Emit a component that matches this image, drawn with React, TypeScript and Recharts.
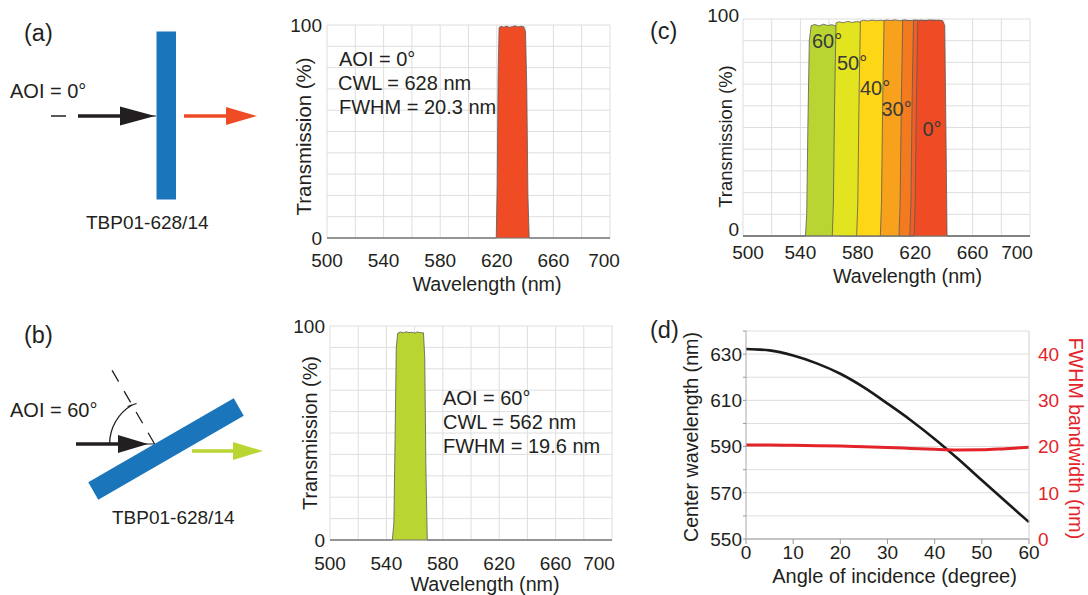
import React from 'react'
import { ComposedChart, Area, Line, XAxis, YAxis, CartesianGrid } from 'recharts'

const FONT = '"Liberation Sans", Arial, Helvetica, sans-serif'
const INK = '#231f20'
const GRID = '#dedede'
const RED = '#e3232a'
const BLUE = '#1a75bb'
const EDGE = '#5a5a5a'

// (a) TBP01-628/14 at AOI = 0 deg
const aWave = [500, 619.6, 620.3, 620.9, 621.6, 623, 625, 627, 629, 631, 633, 635, 637, 639, 640.3, 641.2, 642, 642.9, 700]
const aTrans = [0, 0, 25, 75, 98.8, 99.4, 99.0, 99.5, 98.9, 99.3, 99.6, 99.1, 99.4, 99.2, 97, 70, 20, 0, 0]

// (b) same filter at AOI = 60 deg
const bWave = [500, 544.2, 545.3, 546.1, 547, 548, 550, 552, 554, 556, 558, 560, 562, 564, 566.3, 567.2, 568, 569, 700]
const bTrans = [0, 0, 8, 45, 90, 96.6, 97.2, 96.8, 97.3, 96.9, 97.1, 96.7, 97.2, 96.9, 96.8, 85, 35, 0, 0]

// (c) spectra for several angles
const c60Wave = [500, 543.5, 544.4, 545.2, 546.2, 547.5, 550, 553, 556, 559, 562, 565.5, 566.5, 567.5, 700]
const c60Trans = [0, 0, 10, 50, 90, 96.9, 97.5, 96.8, 97.6, 97.0, 97.4, 96.5, 50, 0, 0]
const c50Wave = [562.2, 563, 563.8, 564.8, 567, 570, 573, 576, 579, 582, 584.5, 585.5, 586.5]
const c50Trans = [0, 15, 60, 98.2, 98.7, 98.3, 98.9, 98.4, 98.8, 98.5, 98.3, 50, 0]
const c40Wave = [579.2, 580, 580.8, 581.8, 584, 587, 590, 593, 596, 599, 601.5, 602.5, 603.5]
const c40Trans = [0, 15, 60, 99.0, 99.4, 99.1, 99.5, 99.2, 99.4, 99.1, 99.0, 50, 0]
const c30Wave = [595.7, 596.5, 597.3, 598.3, 600, 603, 606, 609, 612, 615, 618, 619, 620]
const c30Trans = [0, 15, 60, 99.2, 99.5, 99.3, 99.6, 99.2, 99.5, 99.3, 99.1, 50, 0]
const c20Wave = [608.7, 609.5, 610.3, 611.3, 613, 616, 619, 622, 625, 628, 631, 632, 633]
const c20Trans = [0, 15, 60, 99.3, 99.5, 99.2, 99.5, 99.3, 99.4, 99.2, 99.1, 50, 0]
const c10Wave = [616.2, 617, 617.8, 618.8, 621, 624, 627, 630, 633, 636, 638.5, 639.5, 640.5]
const c10Trans = [0, 15, 60, 99.3, 99.5, 99.2, 99.4, 99.3, 99.5, 99.2, 99.1, 50, 0]
const c0Wave = [500, 619.2, 620, 620.8, 621.8, 624, 627, 630, 633, 636, 639, 640.6, 641.4, 642.2, 700]
const c0Trans = [0, 0, 15, 60, 99.3, 99.5, 99.2, 99.6, 99.3, 99.5, 99.3, 97, 50, 0, 0]
const cAngleLabels = ['60°', '50°', '40°', '30°', '0°']

// (d) centre wavelength and FWHM vs angle
const dAngle = [0, 5, 10, 15, 20, 25, 30, 35, 40, 45, 50, 55, 60]
const dCwl = [632.2, 631.6, 629.4, 626.0, 621.5, 615.6, 608.6, 601.3, 593.3, 584.6, 575.4, 566.3, 557.3]
const dFwhm = [20.35, 20.33, 20.28, 20.2, 20.1, 19.95, 19.8, 19.6, 19.4, 19.28, 19.3, 19.55, 19.85]

// ticks
const waveTicks = [500, 520, 540, 560, 580, 600, 620, 640, 660, 680, 700]
const waveLabels = [500, 540, 580, 620, 660, 700]
const transTicks = [0, 10, 20, 30, 40, 50, 60, 70, 80, 90, 100]
const transLabels = [0, 100]
const angleTicks = [0, 10, 20, 30, 40, 50, 60]
const cwlTicks = [550, 560, 570, 580, 590, 600, 610, 620, 630, 640]
const cwlLabels = [550, 570, 590, 610, 630]
const fwhmTicks = [0, 10, 20, 30, 40]

const cSeries = [
  { key: 't60', wave: c60Wave, trans: c60Trans },
  { key: 't50', wave: c50Wave, trans: c50Trans },
  { key: 't40', wave: c40Wave, trans: c40Trans },
  { key: 't30', wave: c30Wave, trans: c30Trans },
  { key: 't20', wave: c20Wave, trans: c20Trans },
  { key: 't10', wave: c10Wave, trans: c10Trans },
  { key: 't0', wave: c0Wave, trans: c0Trans },
]
const cFills = ['#b9d531', '#e1e41e', '#fdd716', '#f8a11c', '#f47a20', '#f15d22', '#ef4b24']

const aRows = aWave.map((w, i) => ({ w, t: aTrans[i] }))
const bRows = bWave.map((w, i) => ({ w, t: bTrans[i] }))
const cRows = (() => {
  const byWave = new Map<number, any>()
  cSeries.forEach(s =>
    s.wave.forEach((w, i) => {
      const row = byWave.get(w) ?? { w }
      row[s.key] = s.trans[i]
      byWave.set(w, row)
    }),
  )
  return [...byWave.values()].sort((p, q) => p.w - q.w)
})()
const dRows = dAngle.map((a, i) => ({ a, cwl: dCwl[i], fwhm: dFwhm[i] }))

// x tick: only every other grid line gets a label; the end ones are nudged inward as in the original
function WaveTick(props: any) {
  const { x, y, payload, firstDx = 0, lastDx = 0 } = props
  const v = payload.value
  if (!waveLabels.includes(v)) return <g />
  const last = v === waveLabels[waveLabels.length - 1]
  const first = v === waveLabels[0]
  return (
    <text x={x + (last ? lastDx : first ? firstDx : 0)} y={y} dy="0.71em" textAnchor="middle"
      fontSize={19} fill={INK} fontFamily={FONT}>
      {v}
    </text>
  )
}

// y tick: only 0 and 100 are labelled
function TransTick(props: any) {
  const { x, y, payload, lowDy = 0, highDy = 0 } = props
  const v = payload.value
  if (!transLabels.includes(v)) return <g />
  return (
    <text x={x} y={y + (v === 0 ? lowDy : highDy)} dy="0.355em" textAnchor="end"
      fontSize={19} fill={INK} fontFamily={FONT}>
      {v}
    </text>
  )
}

// rotated axis title, centred on the axis box
const vTitle = (text: string, dx: number, dy: number, size: number, angle: number, fill = INK, fromRight = false) =>
  (props: any) => {
    const vb = props.viewBox
    if (!vb) return null
    const cx = fromRight ? vb.x + vb.width - dx : vb.x + dx
    const cy = vb.y + vb.height / 2 + dy
    return (
      <text x={cx} y={cy} transform={`rotate(${angle} ${cx} ${cy})`} textAnchor="middle"
        dominantBaseline="central" fontSize={size} fill={fill} fontFamily={FONT}>
        {text}
      </text>
    )
  }

const hTitle = (text: string, fromBottom: number, dx: number, size: number) => (props: any) => {
  const vb = props.viewBox
  if (!vb) return null
  return (
    <text x={vb.x + vb.width / 2 + dx} y={vb.y + vb.height - fromBottom} textAnchor="middle"
      fontSize={size} fill={INK} fontFamily={FONT}>
      {text}
    </text>
  )
}

function SpectrumChart({ rows, fill, width, height, yWidth, xHeight, xTitleBottom, xTitleDx, yTitleDx, yTitleDy, yTitleSize, yTickMargin, xTickMargin, lastDx }: any) {
  return (
    <ComposedChart width={width} height={height} data={rows} margin={{ top: 15, right: 10, left: 0, bottom: 0 }}>
      <CartesianGrid stroke={GRID} strokeWidth={1} />
      <XAxis
        dataKey="w"
        type="number"
        domain={[500, 700]}
        ticks={waveTicks}
        interval={0}
        height={xHeight}
        tickLine={false}
        tickSize={6}
        tickMargin={xTickMargin}
        axisLine={{ stroke: '#777' }}
        tick={(p: any) => <WaveTick {...p} lastDx={lastDx} />}
        label={{ content: hTitle('Wavelength (nm)', xTitleBottom, xTitleDx, 19.7) }}
      />
      <YAxis
        type="number"
        domain={[0, 100]}
        ticks={transTicks}
        interval={0}
        width={yWidth}
        axisLine={false}
        tickLine={false}
        tickSize={0}
        tickMargin={yTickMargin}
        tick={(p: any) => <TransTick {...p} />}
        label={{ content: vTitle('Transmission (%)', yTitleDx, yTitleDy, yTitleSize, -90) }}
      />
      <Area type="linear" dataKey="t" stroke={EDGE} strokeWidth={0.8} fill={fill} fillOpacity={1}
        dot={false} activeDot={false} isAnimationActive={false} />
    </ComposedChart>
  )
}

function AngleSpectraChart() {
  return (
    <ComposedChart width={347} height={291} data={cRows} margin={{ top: 15, right: 10, left: 0, bottom: 0 }}>
      <CartesianGrid stroke={GRID} strokeWidth={1} />
      <XAxis
        dataKey="w"
        type="number"
        domain={[500, 700]}
        ticks={waveTicks}
        interval={0}
        height={59}
        tickLine={false}
        tickSize={6}
        tickMargin={4}
        axisLine={{ stroke: '#777' }}
        tick={(p: any) => <WaveTick {...p} firstDx={5} lastDx={-13} />}
        label={{ content: hTitle('Wavelength (nm)', 12.5, 21, 19.7) }}
      />
      <YAxis
        type="number"
        domain={[0, 100]}
        ticks={transTicks}
        interval={0}
        width={50}
        axisLine={false}
        tickLine={false}
        tickSize={0}
        tickMargin={4}
        tick={(p: any) => <TransTick {...p} lowDy={-7} highDy={-4} />}
        label={{ content: vTitle('Transmission (%)', 32, 9, 18.4, -90) }}
      />
      {cSeries.map((s, i) => (
        <Area key={s.key} type="linear" dataKey={s.key} stroke={EDGE} strokeWidth={0.8} fill={cFills[i]}
          fillOpacity={1} connectNulls dot={false} activeDot={false} isAnimationActive={false} />
      ))}
    </ComposedChart>
  )
}

function AngleTrendChart() {
  return (
    <ComposedChart width={408} height={279} data={dRows} margin={{ top: 15, right: 0, left: 0, bottom: 0 }}>
      <CartesianGrid yAxisId="left" vertical={false} stroke={GRID} strokeWidth={1} />
      <XAxis
        dataKey="a"
        type="number"
        domain={[0, 60]}
        ticks={angleTicks}
        interval={0}
        height={56}
        tickSize={5}
        tickMargin={2}
        axisLine={{ stroke: '#999' }}
        tickLine={{ stroke: '#999' }}
        tick={{ fontSize: 19, fill: INK, fontFamily: FONT }}
        label={{ content: hTitle('Angle of incidence (degree)', 12, 7, 20) }}
      />
      <YAxis
        yAxisId="left"
        type="number"
        domain={[550, 640]}
        ticks={cwlTicks}
        interval={0}
        width={66}
        tickSize={3}
        tickMargin={1}
        axisLine={{ stroke: '#aaa' }}
        tickLine={{ stroke: '#999' }}
        tick={{ fontSize: 19, fill: INK, fontFamily: FONT }}
        tickFormatter={(v: number) => (cwlLabels.includes(v) ? String(v) : '')}
        label={{ content: vTitle('Center wavelength (nm)', 10.5, 2, 19.7, -90) }}
      />
      <YAxis
        yAxisId="right"
        orientation="right"
        type="number"
        domain={[0, 45]}
        ticks={fwhmTicks}
        interval={0}
        width={59}
        tickSize={0}
        tickMargin={9}
        tickLine={false}
        axisLine={{ stroke: '#d0d0d0' }}
        tick={{ fontSize: 19, fill: RED, fontFamily: FONT }}
        label={{ content: vTitle('FWHM bandwidth (nm)', 12, 3.5, 19.6, 90, RED, true) }}
      />
      <Line yAxisId="left" type="monotone" dataKey="cwl" stroke="#1a1a1a" strokeWidth={2.6}
        dot={false} activeDot={false} isAnimationActive={false} />
      <Line yAxisId="right" type="monotone" dataKey="fwhm" stroke={RED} strokeWidth={3}
        dot={false} activeDot={false} isAnimationActive={false} />
    </ComposedChart>
  )
}

function Overlay() {
  const hitX = 154.6
  const hitY = 444
  return (
    <svg width={1088} height={595} style={{ position: 'absolute', left: 0, top: 0, pointerEvents: 'none' }}
      fontFamily={FONT}>
      {/* panel letters */}
      <text x={24} y={41} fontSize={23.5} fill={INK}>(a)</text>
      <text x={24} y={343} fontSize={23.5} fill={INK}>(b)</text>
      <text x={650} y={39} fontSize={23.5} fill={INK}>(c)</text>
      <text x={650} y={338} fontSize={23.5} fill={INK}>(d)</text>

      {/* (a) sketch: normal incidence */}
      <text x={10} y={98} fontSize={20} fill={INK}>AOI = 0°</text>
      <line x1={51} y1={116} x2={66} y2={116} stroke={INK} strokeWidth={1.5} />
      <line x1={78} y1={116} x2={156} y2={116} stroke={INK} strokeWidth={1} />
      <line x1={78} y1={116} x2={124} y2={116} stroke={INK} strokeWidth={3.5} />
      <polygon points="120,106.5 155,116 120,125.5" fill={INK} />
      <rect x={156.5} y={31.5} width={19.5} height={168} fill={BLUE} />
      <line x1={184} y1={116} x2={230} y2={116} stroke="#ef4b24" strokeWidth={3.5} />
      <polygon points="226,107 257,116 226,125" fill="#ef4b24" />
      <text x={86} y={229} fontSize={19} fill={INK}>TBP01-628/14</text>

      {/* (b) sketch: tilted filter */}
      <text x={10} y={417} fontSize={20} fill={INK}>AOI = 60°</text>
      <line x1={hitX} y1={hitY} x2={hitX - 0.5 * 96} y2={hitY - 0.866 * 96} stroke={INK}
        strokeWidth={1.3} strokeDasharray="13 11" />
      <path d={`M ${hitX - 45} ${hitY} A 45 45 0 0 1 ${hitX - 22.5} ${hitY - 38.97}`} fill="none"
        stroke={INK} strokeWidth={1.3} />
      <line x1={hitX - 27} y1={hitY - 37.5} x2={hitX - 18} y2={hitY - 40.5} stroke={INK} strokeWidth={1.3} />
      <line x1={76} y1={hitY} x2={hitX} y2={hitY} stroke={INK} strokeWidth={1} />
      <line x1={76} y1={hitY} x2={122} y2={hitY} stroke={INK} strokeWidth={3.5} />
      <polygon points={`118,${hitY - 9} 148,${hitY} 118,${hitY + 9}`} fill={INK} />
      <rect x={166 - 84} y={449 - 10} width={168} height={20} fill={BLUE} transform="rotate(-30 166 449)" />
      <line x1={192} y1={451} x2={236} y2={451} stroke="#b9d531" strokeWidth={3.5} />
      <polygon points="233,442 263,451 233,460" fill="#b9d531" />
      <text x={112} y={524} fontSize={19} fill={INK}>TBP01-628/14</text>

      {/* (a) chart notes */}
      <text x={339} y={66} fontSize={20} fill={INK}>AOI = 0°</text>
      <text x={338} y={89.5} fontSize={20} fill={INK}>CWL = 628 nm</text>
      <text x={339} y={113.5} fontSize={20} fill={INK}>FWHM = 20.3 nm</text>

      {/* (b) chart notes */}
      <text x={443} y={404.5} fontSize={20} fill={INK}>AOI = 60°</text>
      <text x={443} y={428.5} fontSize={20} fill={INK}>CWL = 562 nm</text>
      <text x={443} y={453} fontSize={20} fill={INK}>FWHM = 19.6 nm</text>

      {/* (c) angle tags */}
      <text x={812} y={48} fontSize={20} fill="#3a3a3a">{cAngleLabels[0]}</text>
      <text x={837} y={69.5} fontSize={20} fill="#3a3a3a">{cAngleLabels[1]}</text>
      <text x={860} y={94.5} fontSize={20} fill="#3a3a3a">{cAngleLabels[2]}</text>
      <text x={881.5} y={116} fontSize={20} fill="#3a3a3a">{cAngleLabels[3]}</text>
      <text x={922.5} y={136} fontSize={20} fill="#3a3a3a">{cAngleLabels[4]}</text>
    </svg>
  )
}

export default function App() {
  return (
    <div style={{ position: 'absolute', left: 0, top: 0, width: 1088, height: 595, background: '#fff',
      fontFamily: FONT, overflow: 'hidden' }}>
      <div style={{ position: 'absolute', left: 280, top: 10 }}>
        <SpectrumChart rows={aRows} fill="#ef4b24" width={340} height={290} yWidth={47} xHeight={62}
          xTitleBottom={9.5} xTitleDx={18.5} yTitleDx={24} yTitleDy={5} yTitleSize={20.4} yTickMargin={5}
          xTickMargin={10} lastDx={-6} />
      </div>
      <div style={{ position: 'absolute', left: 283, top: 311 }}>
        <SpectrumChart rows={bRows} fill="#b9d531" width={339} height={284} yWidth={47} xHeight={55}
          xTitleBottom={4} xTitleDx={14} yTitleDx={27} yTitleDy={0} yTitleSize={19.9} yTickMargin={5}
          xTickMargin={11} lastDx={-13} />
      </div>
      <div style={{ position: 'absolute', left: 693, top: 4 }}>
        <AngleSpectraChart />
      </div>
      <div style={{ position: 'absolute', left: 680, top: 316 }}>
        <AngleTrendChart />
      </div>
      <Overlay />
    </div>
  )
}
